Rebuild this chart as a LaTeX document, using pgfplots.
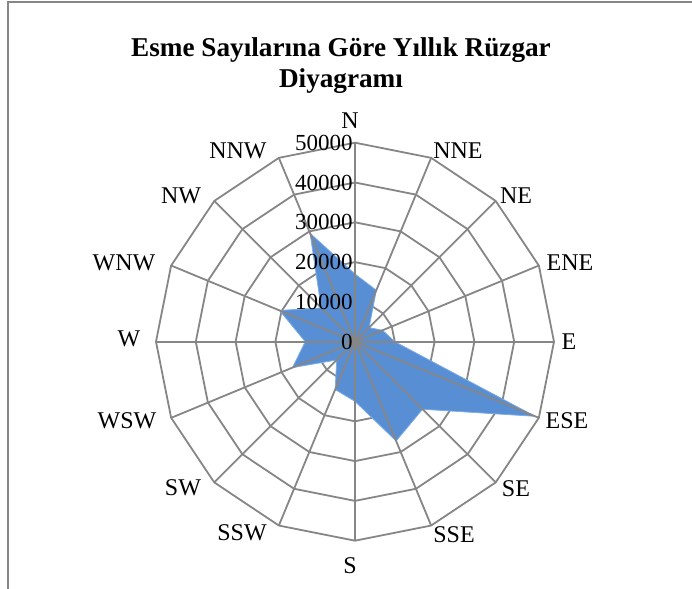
\documentclass[border=0pt]{standalone}
\usepackage{pgfplots}
\pgfplotsset{compat=1.18}
\usepgfplotslibrary{polar}
\usepackage{fontspec}
\setmainfont{Liberation Serif}
\definecolor{gridgray}{RGB}{134,134,134}
\definecolor{windblue}{RGB}{88,142,212}
\definecolor{windedge}{RGB}{125,172,230}
\begin{document}
\begin{tikzpicture}
\useasboundingbox (0,0) rectangle (346pt,294.5pt);
\draw[gridgray, line width=0.6pt] (4pt,0) -- (4pt,293.5pt) -- (346pt,293.5pt);
\node[anchor=base, font=\fontsize{13.6}{16}\selectfont\bfseries] at (170.5pt,266pt) {Esme Sayılarına Göre Yıllık Rüzgar};
\node[anchor=base, font=\fontsize{13.6}{16}\selectfont\bfseries] at (170.5pt,250.5pt) {Diyagramı};
\begin{polaraxis}[
  scale only axis, width=199pt, height=199pt,
  at={(177.5pt,123.65pt)}, anchor=center,
  xmin=0, xmax=360, ymin=0, ymax=50000,
  xtick=\empty, ytick=\empty,
  axis line style={draw=none},
  major tick length=0pt,
  xmajorgrids=false, ymajorgrids=false,
  clip=false,
]
\pgfplotsinvokeforeach{10000,20000,30000,40000,50000}{
  \addplot[gridgray, line width=0.9pt, mark=none, line join=miter] coordinates {(0,#1)(22.5,#1)(45,#1)(67.5,#1)(90,#1)(112.5,#1)(135,#1)(157.5,#1)(180,#1)(202.5,#1)(225,#1)(247.5,#1)(270,#1)(292.5,#1)(315,#1)(337.5,#1)(360,#1)};
}
\addplot[fill=windblue, draw=windedge, line width=0.4pt, line join=round, mark=none] coordinates {
 (90,17000) (67.5,14000) (45,5000) (22.5,7500) (0,10000) (337.5,49000)
 (315,24000) (292.5,27000) (270,15000) (247.5,13000) (225,6500) (202.5,17000)
 (180,12500) (157.5,20500) (135,12000) (112.5,29500)} -- cycle;
\pgfplotsinvokeforeach{0,22.5,45,67.5,90,112.5,135,157.5,180,202.5,225,247.5,270,292.5,315,337.5}{
  \addplot[gridgray, line width=0.9pt, mark=none] coordinates {(#1,0) (#1,50000)};
}
\pgfplotsinvokeforeach{0,10000,20000,30000,40000,50000}{
  \node[anchor=east, inner sep=1pt, font=\fontsize{11.5}{12}\selectfont] at (axis cs:90,#1) {#1};
}
\foreach \dx/\dy/\lab in {-2.5/110.3/N, 51.5/95.3/NNE, 80.5/72.8/NE, 107.5/39.3/ENE, 107/0/E, 106/-39.6/ESE, 80.5/-73.6/SE, 49.5/-96.6/SSE, -2.5/-112.1/S, -56.5/-95.6/SSW, -86/-73.1/SW, -114/-39.6/WSW, -113/1.3/W, -115.5/39.3/WNW, -87/72.8/NW, -58.5/95.3/NNW}{
  \edef\temp{\noexpand\node[anchor=center, inner sep=0pt, font=\noexpand\fontsize{12}{12}\noexpand\selectfont, xshift=\dx pt, yshift=\dy pt] at (axis cs:0,0) {\lab};}
  \temp
}
\end{polaraxis}
\end{tikzpicture}
\end{document}
